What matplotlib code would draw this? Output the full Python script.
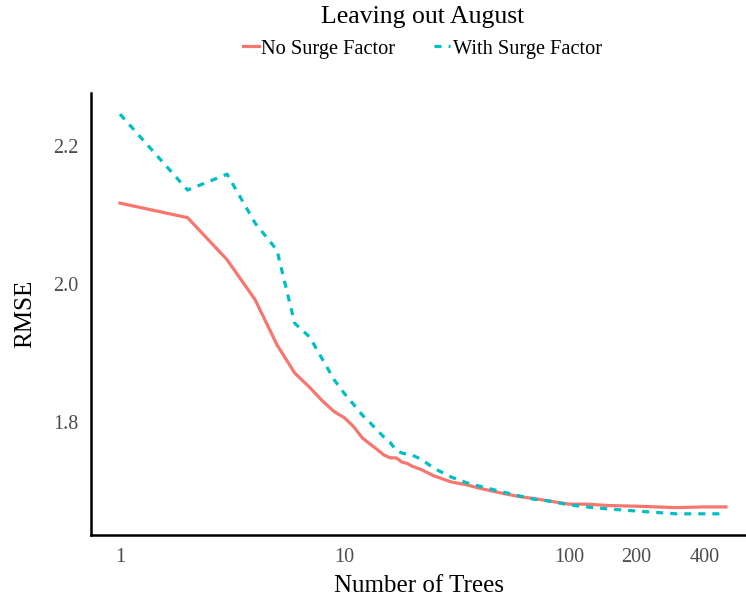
import numpy as np
import matplotlib.pyplot as plt

plt.rcParams['font.family'] = ['Liberation Serif', 'DejaVu Serif']

trees_no_surge = [1, 2, 3, 4, 5, 6, 7, 8, 9, 10, 11, 12, 13, 14, 15, 16, 17, 18, 19, 20,
                  22, 25, 30, 35, 40, 50, 60, 70, 80, 100, 120, 150, 200, 300, 400, 500]
rmse_no_surge = [2.117, 2.096, 2.035, 1.977, 1.912, 1.871, 1.850, 1.830, 1.815, 1.806,
                 1.793, 1.777, 1.768, 1.760, 1.752, 1.748, 1.748, 1.742, 1.740, 1.736,
                 1.731, 1.722, 1.713, 1.709, 1.704, 1.697, 1.692, 1.689, 1.686, 1.681,
                 1.681, 1.679, 1.678, 1.676, 1.677, 1.677]

trees_surge = [1, 2, 3, 4, 5, 6, 7, 8, 9, 10, 11, 12, 13, 14, 15, 16, 17, 18, 20,
               22, 25, 30, 35, 40, 50, 60, 70, 80, 100, 120, 150, 200, 300, 400, 500]
rmse_surge = [2.246, 2.136, 2.159, 2.088, 2.049, 1.943, 1.923, 1.890, 1.861, 1.841,
              1.825, 1.810, 1.799, 1.788, 1.778, 1.770, 1.759, 1.755, 1.752,
              1.746, 1.733, 1.720, 1.712, 1.707, 1.699, 1.693, 1.688, 1.686, 1.680,
              1.677, 1.674, 1.671, 1.667, 1.667, 1.667]

x_ticks = [1, 10, 100, 200, 400]
y_ticks = [1.8, 2.0, 2.2]

fig = plt.figure(figsize=(7.46, 5.98), dpi=100)
ax = fig.add_axes([0.122, 0.105, 0.878, 0.74])

ax.plot(trees_no_surge, rmse_no_surge, color='#F8766D', lw=2.3,
        label='No Surge Factor')
ax.plot(trees_surge, rmse_surge, color='#00BFC4', lw=2.3, ls=(0, (2.2, 2.2)),
        label='With Surge Factor')

ax.set_xscale('log')
ax.set_xlim(0.743, 614)
ax.set_ylim(1.636, 2.277)
ax.set_xticks(x_ticks)
ax.set_xticklabels([str(t) for t in x_ticks])
ax.minorticks_off()
ax.set_yticks(y_ticks)
ax.set_yticklabels(['%.1f' % t for t in y_ticks])
ax.tick_params(length=0, labelsize=14.5, labelcolor='#4d4d4d', pad=9)

for side in ['top', 'right']:
    ax.spines[side].set_visible(False)
for side in ['left', 'bottom']:
    ax.spines[side].set_linewidth(1.8)

ax.set_xlabel('Number of Trees', fontsize=18, labelpad=6)
ax.set_ylabel('RMSE', fontsize=18, labelpad=12)

fig.text(0.566, 0.99, 'Leaving out August', ha='center', va='top', fontsize=18.5)
fig.legend(loc='upper center', bbox_to_anchor=(0.566, 0.965), ncol=2, frameon=False,
           fontsize=14.7, handlelength=0.8, handletextpad=0.1, columnspacing=1.9)

fig.savefig('out.png', dpi=100)
